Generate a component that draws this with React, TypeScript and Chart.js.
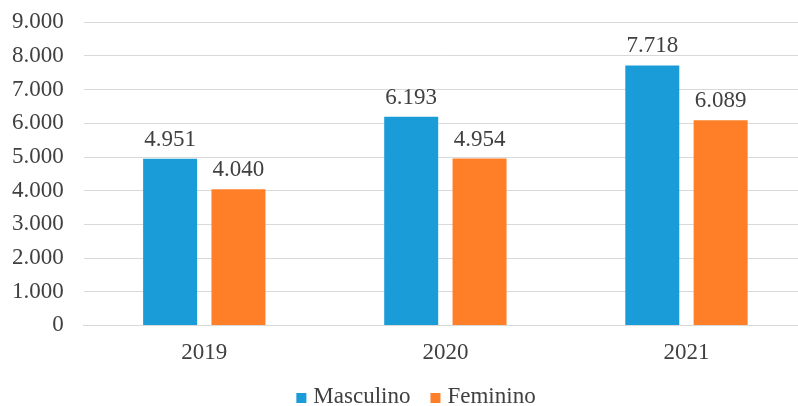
import React, { useEffect, useRef } from "react";
import { Chart, registerables } from "chart.js";

Chart.register(...registerables);

const categories = ["2019", "2020", "2021"];
const masculinoValues = [4951, 6193, 7718];
const femininoValues = [4040, 4954, 6089];
const seriesNames = ["Masculino", "Feminino"];
const seriesColors = ["#199cd8", "#fe7f27"];

const FONT = "'Liberation Serif', 'Times New Roman', serif";
const SIZE = 23;
const TEXT = "#404040";
const fmt = (v: number) => String(Math.round(v)).replace(/\B(?=(\d{3})+(?!\d))/g, ".");

const labelPlugin = {
  id: "valueLabels",
  afterDatasetsDraw(chart: any) {
    const ctx = chart.ctx;
    ctx.save();
    ctx.font = `${SIZE}px ${FONT}`;
    ctx.fillStyle = TEXT;
    ctx.textAlign = "center";
    ctx.textBaseline = "alphabetic";
    chart.data.datasets.forEach((ds: any, i: number) => {
      const meta = chart.getDatasetMeta(i);
      meta.data.forEach((el: any, j: number) => {
        ctx.fillText(fmt(ds.data[j]), el.x, el.y - 13);
      });
    });
    ctx.restore();
  },
};

const legendPlugin = {
  id: "customLegend",
  afterDraw(chart: any) {
    const ctx = chart.ctx;
    ctx.save();
    ctx.font = `${SIZE}px ${FONT}`;
    ctx.textBaseline = "alphabetic";
    ctx.textAlign = "left";
    const box = 10;
    const boxGap = 7;
    const itemGap = 20;
    const items = chart.data.datasets.map((ds: any) => ({
      label: ds.label,
      color: ds.backgroundColor,
      w: ctx.measureText(ds.label).width,
    }));
    const total = items.reduce((s: number, it: any) => s + box + boxGap + it.w, 0) + itemGap * (items.length - 1);
    let x = 416 - total / 2;
    const baseline = 403;
    items.forEach((it: any) => {
      ctx.fillStyle = it.color;
      ctx.fillRect(x, baseline - box, box, box);
      x += box + boxGap;
      ctx.fillStyle = TEXT;
      ctx.fillText(it.label, x, baseline);
      x += it.w + itemGap;
    });
    ctx.restore();
  },
};

export default function App() {
  const ref = useRef<HTMLCanvasElement>(null);
  useEffect(() => {
    const chart = new Chart(ref.current!, {
      type: "bar",
      data: {
        labels: categories,
        datasets: [
          { label: seriesNames[0], data: masculinoValues, backgroundColor: seriesColors[0], categoryPercentage: 0.567, barPercentage: 0.79 },
          { label: seriesNames[1], data: femininoValues, backgroundColor: seriesColors[1], categoryPercentage: 0.567, barPercentage: 0.79 },
        ],
      },
      options: {
        animation: false,
        responsive: false,
        layout: { padding: { top: 0, right: 1, left: -8, bottom: 33 } },
        plugins: {
          legend: { display: false },
          tooltip: { enabled: false },
        },
        scales: {
          x: {
            grid: { display: false },
            border: { color: "#d9d9d9" },
            ticks: { color: TEXT, font: { family: FONT, size: SIZE }, padding: 6 },
          },
          y: {
            min: 0,
            max: 9000,
            ticks: {
              stepSize: 1000,
              color: TEXT,
              font: { family: FONT, size: SIZE, lineHeight: 0.2 },
              padding: 20,
              callback: (v: any) => fmt(Number(v)),
            },
            grid: { color: "#d9d9d9", drawTicks: false },
            border: { display: false },
          },
        },
      },
      plugins: [labelPlugin, legendPlugin],
    });
    return () => chart.destroy();
  }, []);
  return (
    <div style={{ position: "fixed", left: 0, top: 0, width: 798, height: 406, background: "#fff", overflow: "hidden" }}>
      <canvas ref={ref} width={808} height={406} style={{ display: "block" }} />
    </div>
  );
}
